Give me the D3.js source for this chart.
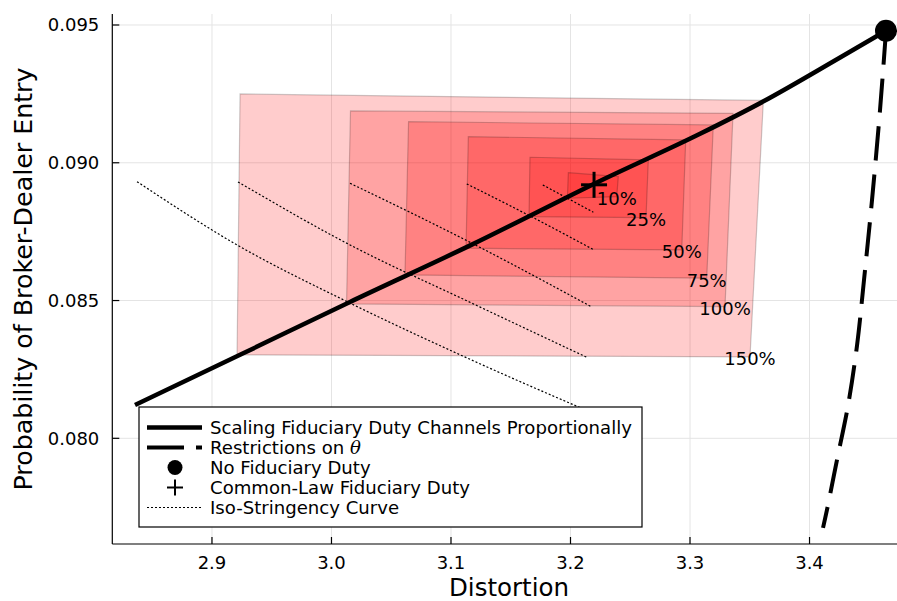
<!DOCTYPE html>
<html>
<head>
<meta charset="utf-8">
<script src="https://cdnjs.cloudflare.com/ajax/libs/d3/7.8.5/d3.min.js"></script>
<style>
    body { margin: 0; background: #fff; }
    text { font-family: "DejaVu Sans", sans-serif; fill: #000; }
</style>
</head>
<body>
<div id="chart"></div>
<script>
// ticks
const xTicks = [2.9, 3.0, 3.1, 3.2, 3.3, 3.4];
const yTicks = [0.080, 0.085, 0.090, 0.095];

// scaling fiduciary duty channels proportionally
const scalingLine = [
    [2.8356, 0.08121], [2.9235, 0.08303], [3.0155, 0.08495], [3.1170, 0.08702],
    [3.2247, 0.08934], [3.3084, 0.09105], [3.3611, 0.09222], [3.4256, 0.09382],
    [3.4640, 0.09479]
];

// restrictions on theta
const thetaLine = [
    [3.4640, 0.09479], [3.4590, 0.09192], [3.4523, 0.08865], [3.4456, 0.08575],
    [3.4398, 0.08339], [3.4322, 0.08118], [3.4230, 0.07922], [3.4146, 0.07740],
    [3.4113, 0.07675]
];

const noDuty = [3.4640, 0.09479];
const commonLaw = [3.2197, 0.08920];

// uncertainty regions (TL, TR, BR, BL)
const boxLabels = ["150%", "100%", "75%", "50%", "25%", "10%"];
const boxCorners = [
    [[2.9235, 0.092497], [3.3614, 0.092261], [3.3502, 0.082955], [2.9210, 0.083028]],
    [[3.0159, 0.091880], [3.3360, 0.091796], [3.3293, 0.084780], [3.0126, 0.084878]],
    [[3.0645, 0.091492], [3.3195, 0.091372], [3.3140, 0.085810], [3.0615, 0.085930]],
    [[3.1145, 0.090948], [3.2964, 0.090828], [3.2931, 0.086837], [3.1126, 0.086899]],
    [[3.1661, 0.090200], [3.2651, 0.090102], [3.2632, 0.088009], [3.1653, 0.088045]],
    [[3.1982, 0.089641], [3.2400, 0.089496], [3.2387, 0.088771], [3.1974, 0.088713]]
];

// iso-stringency curves
const isoCurves = [
    [[2.8373, 0.089315], [2.9210, 0.087018], [3.0130, 0.084961], [3.1170, 0.082846], [3.2163, 0.080960]],
    [[2.9218, 0.089304], [3.0155, 0.087018], [3.1170, 0.084914], [3.2147, 0.082919]],
    [[3.0155, 0.089257], [3.1170, 0.087091], [3.2172, 0.084780]],
    [[3.1132, 0.089232], [3.1661, 0.088070], [3.2186, 0.086862]],
    [[3.1768, 0.089195], [3.2191, 0.088205]]
];

const legendLabels = [
    "Scaling Fiduciary Duty Channels Proportionally",
    "Restrictions on ",
    "No Fiduciary Duty",
    "Common-Law Fiduciary Duty",
    "Iso-Stringency Curve"
];

const W = 897, H = 601;
const plot = {left: 112.3, right: 897, top: 14, bottom: 544};

const svg = d3.select("#chart").append("svg")
    .attr("width", W)
    .attr("height", H);

const x = d3.scaleLinear().domain([2.8166, 3.4732]).range([plot.left, plot.right]);
const y = d3.scaleLinear().domain([0.076164, 0.095399]).range([plot.bottom, plot.top]);

// grid
svg.append("g")
    .selectAll("line")
    .data(xTicks)
    .join("line")
    .attr("x1", d => x(d)).attr("x2", d => x(d))
    .attr("y1", plot.top).attr("y2", plot.bottom)
    .attr("stroke", "#e4e4e4").attr("stroke-width", 1);
svg.append("g")
    .selectAll("line")
    .data(yTicks)
    .join("line")
    .attr("x1", plot.left).attr("x2", plot.right)
    .attr("y1", d => y(d)).attr("y2", d => y(d))
    .attr("stroke", "#e4e4e4").attr("stroke-width", 1);

// regions
const poly = d3.line().x(d => x(d[0])).y(d => y(d[1]));
svg.append("g")
    .selectAll("path")
    .data(boxCorners)
    .join("path")
    .attr("d", d => poly(d) + "Z")
    .attr("fill", "rgba(255,0,0,0.2)")
    .attr("stroke", "rgba(0,0,0,0.2)")
    .attr("stroke-width", 1.2);

// iso curves
const smooth = d3.line().x(d => x(d[0])).y(d => y(d[1])).curve(d3.curveMonotoneX);
svg.append("g")
    .selectAll("path")
    .data(isoCurves)
    .join("path")
    .attr("d", smooth)
    .attr("fill", "none")
    .attr("stroke", "#000")
    .attr("stroke-width", 1.2)
    .attr("stroke-dasharray", "2,2");

// main lines
svg.append("path")
    .attr("d", smooth(scalingLine))
    .attr("fill", "none")
    .attr("stroke", "#000")
    .attr("stroke-width", 4.5);

svg.append("path")
    .attr("d", d3.line().x(d => x(d[0])).y(d => y(d[1])).curve(d3.curveCatmullRom)(thetaLine))
    .attr("fill", "none")
    .attr("stroke", "#000")
    .attr("stroke-width", 4)
    .attr("stroke-dasharray", "34,14");

// markers
svg.append("circle")
    .attr("cx", x(noDuty[0])).attr("cy", y(noDuty[1]))
    .attr("r", 11).attr("fill", "#000");

const plus = (g, cx, cy, s, w) => {
    g.append("line").attr("x1", cx - s).attr("x2", cx + s).attr("y1", cy).attr("y2", cy)
        .attr("stroke", "#000").attr("stroke-width", w);
    g.append("line").attr("x1", cx).attr("x2", cx).attr("y1", cy - s).attr("y2", cy + s)
        .attr("stroke", "#000").attr("stroke-width", w);
};
plus(svg, x(commonLaw[0]), y(commonLaw[1]), 13, 3);

// region labels at bottom-right corners
svg.append("g")
    .selectAll("text")
    .data(boxCorners)
    .join("text")
    .attr("x", d => x(d[2][0]))
    .attr("y", d => y(d[2][1]))
    .attr("dy", "0.47em")
    .attr("text-anchor", "middle")
    .style("font-size", "18px")
    .text((d, i) => boxLabels[i]);

// axes
svg.append("line")
    .attr("x1", plot.left).attr("x2", plot.left)
    .attr("y1", plot.top).attr("y2", plot.bottom)
    .attr("stroke", "#000").attr("stroke-width", 1.2);
svg.append("line")
    .attr("x1", plot.left).attr("x2", plot.right)
    .attr("y1", plot.bottom).attr("y2", plot.bottom)
    .attr("stroke", "#000").attr("stroke-width", 1.2);

const xt = svg.append("g").selectAll("g").data(xTicks).join("g");
xt.append("line")
    .attr("x1", d => x(d)).attr("x2", d => x(d))
    .attr("y1", plot.bottom).attr("y2", plot.bottom - 7)
    .attr("stroke", "#000").attr("stroke-width", 1.2);
xt.append("text")
    .attr("x", d => x(d)).attr("y", plot.bottom + 25)
    .attr("text-anchor", "middle")
    .style("font-size", "18px")
    .text(d3.format(".1f"));

const yt = svg.append("g").selectAll("g").data(yTicks).join("g");
yt.append("line")
    .attr("x1", plot.left).attr("x2", plot.left + 7)
    .attr("y1", d => y(d)).attr("y2", d => y(d))
    .attr("stroke", "#000").attr("stroke-width", 1.2);
yt.append("text")
    .attr("x", plot.left - 13).attr("y", d => y(d))
    .attr("dy", "0.36em")
    .attr("text-anchor", "end")
    .style("font-size", "18px")
    .text(d3.format(".3f"));

svg.append("text")
    .attr("x", 509).attr("y", 596)
    .attr("text-anchor", "middle")
    .style("font-size", "24.5px")
    .text("Distortion");

svg.append("text")
    .attr("transform", `translate(32,279) rotate(-90)`)
    .attr("text-anchor", "middle")
    .style("font-size", "25.3px")
    .text("Probability of Broker-Dealer Entry");

// legend
const lg = svg.append("g").attr("transform", "translate(139,407)");
lg.append("rect")
    .attr("width", 503).attr("height", 120)
    .attr("fill", "#fff").attr("stroke", "#000").attr("stroke-width", 1.2);

const rowY = i => 20.5 + i * 20;
const sx0 = 8, sx1 = 63, tx = 71;
lg.append("line").attr("x1", sx0).attr("x2", sx1).attr("y1", rowY(0)).attr("y2", rowY(0))
    .attr("stroke", "#000").attr("stroke-width", 4.5);
lg.append("line").attr("x1", sx0).attr("x2", sx1).attr("y1", rowY(1)).attr("y2", rowY(1))
    .attr("stroke", "#000").attr("stroke-width", 4).attr("stroke-dasharray", "37,12");
lg.append("circle").attr("cx", 36).attr("cy", rowY(2)).attr("r", 7.5).attr("fill", "#000");
plus(lg, 36, rowY(3), 8, 2);
lg.append("line").attr("x1", sx0).attr("x2", sx1).attr("y1", rowY(4)).attr("y2", rowY(4))
    .attr("stroke", "#000").attr("stroke-width", 1.2).attr("stroke-dasharray", "2,2");

lg.selectAll("text.lab")
    .data(legendLabels)
    .join("text")
    .attr("class", "lab")
    .attr("x", tx)
    .attr("y", (d, i) => rowY(i))
    .attr("dy", "0.36em")
    .style("font-size", "18.1px")
    .text(d => d)
    .filter((d, i) => i === 1)
    .append("tspan")
    .style("font-family", "'DejaVu Serif', serif")
    .style("font-style", "italic")
    .text("θ");
</script>
</body>
</html>
